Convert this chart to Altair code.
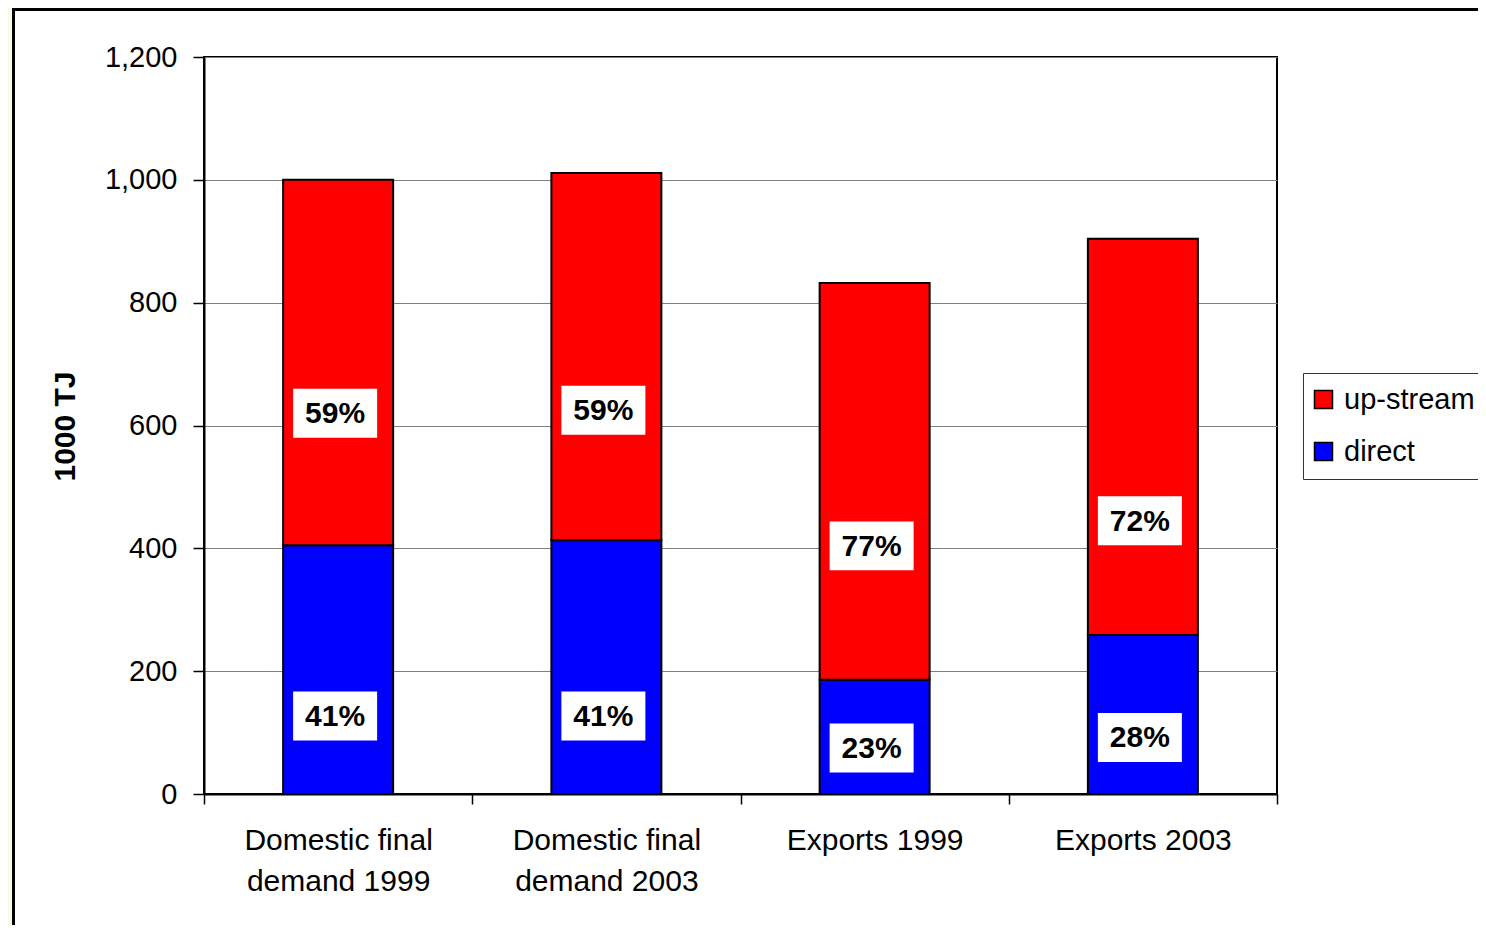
import altair as alt
import pandas as pd

categories = ["Domestic final|demand 1999", "Domestic final|demand 2003", "Exports 1999", "Exports 2003"]
direct = [405, 413, 186, 259]
upstream = [595, 598, 646, 645]
direct_pct = ["41%", "41%", "23%", "28%"]
upstream_pct = ["59%", "59%", "77%", "72%"]
direct_label_pos = [127, 127, 75, 92]
upstream_label_pos = [620, 625, 404, 445]
series_names = ["up-stream", "direct"]
series_colors = ["#FF0000", "#0000FF"]
y_ticks = [0, 200, 400, 600, 800, 1000, 1200]

FONT = "Liberation Sans"
W, H = 1073, 737

rows = []
for i, c in enumerate(categories):
    rows.append({"category": c, "series": "direct", "value": direct[i], "ord": 0})
    rows.append({"category": c, "series": "up-stream", "value": upstream[i], "ord": 1})
bars_df = pd.DataFrame(rows)

lab_rows = []
for i, c in enumerate(categories):
    lab_rows.append({"category": c, "pos": direct_label_pos[i], "text": direct_pct[i]})
    lab_rows.append({"category": c, "pos": upstream_label_pos[i], "text": upstream_pct[i]})
labels_df = pd.DataFrame(lab_rows)

x_axis = alt.Axis(
    title=None, labelAngle=0, labelExpr="split(datum.label, '|')", labelLimit=500,
    labelFont=FONT, labelFontSize=30, labelLineHeight=41, labelColor="black",
    labelPadding=21, tickBand="extent", tickSize=10, tickColor="black", tickWidth=1.5,
    domainColor="black", domainWidth=2, grid=False,
)
y_axis = alt.Axis(
    title="1000 TJ", titleFont=FONT, titleFontSize=30, titleFontWeight="bold", titleColor="black",
    titleX=-139, titleY=369, titleAngle=270, titleAlign="center", titleBaseline="middle",
    values=y_ticks, format=",d", labelFont=FONT, labelFontSize=29, labelColor="black",
    labelPadding=16, tickSize=11, tickColor="black", tickWidth=1.5,
    domainColor="black", domainWidth=2, grid=True, gridColor="#808080", gridWidth=1,
)
x_scale = alt.Scale(domain=categories, paddingInner=0, paddingOuter=0)
y_scale = alt.Scale(domain=[0, 1200], nice=False)

one = pd.DataFrame({"a": [0]})

yellow = "#FAFAE8"
strip_left = alt.Chart(one).mark_rect(color=yellow).encode(
    x=alt.value(-300), x2=alt.value(-192), y=alt.value(-100), y2=alt.value(1200))
border_top = alt.Chart(one).mark_rule(color="black", strokeWidth=3).encode(
    x=alt.value(-192), x2=alt.value(1600), y=alt.value(-47.5))
border_left = alt.Chart(one).mark_rule(color="black", strokeWidth=3).encode(
    x=alt.value(-190.5), y=alt.value(-49), y2=alt.value(1200))

bars = alt.Chart(bars_df).mark_bar(width=110, stroke="black", strokeWidth=2).encode(
    x=alt.X("category:N", sort=categories, scale=x_scale, axis=x_axis),
    y=alt.Y("value:Q", stack="zero", scale=y_scale, axis=y_axis),
    color=alt.Color(
        "series:N", title=None,
        scale=alt.Scale(domain=series_names, range=series_colors),
        legend=alt.Legend(
            orient="none", legendX=1099, legendY=316, direction="vertical",
            labelFont=FONT, labelFontSize=29, labelColor="black", labelOffset=6,
            symbolOffset=-6,
            symbolType="square", symbolSize=324, symbolStrokeColor="black",
            symbolStrokeWidth=1.5, symbolOpacity=1, padding=12, rowPadding=22,
            strokeColor="#333333", fillColor="white",
        ),
    ),
    order=alt.Order("ord:Q", sort="ascending"),
)

boxes = alt.Chart(labels_df).mark_point(
    shape="M-1,-0.583L1,-0.583L1,0.583L-1,0.583Z", size=7056, filled=True,
    fill="white", color="white", opacity=1, strokeWidth=0, xOffset=-3,
).encode(
    x=alt.X("category:N", sort=categories, scale=x_scale, axis=x_axis),
    y=alt.Y("pos:Q", scale=y_scale, axis=y_axis),
)

texts = alt.Chart(labels_df).mark_text(
    font=FONT, fontSize=30, fontWeight="bold", color="black",
    align="center", baseline="middle", dx=-3, dy=1,
).encode(
    x=alt.X("category:N", sort=categories, scale=x_scale, axis=x_axis),
    y=alt.Y("pos:Q", scale=y_scale, axis=y_axis),
    text="text:N",
)

chart = alt.layer(strip_left, border_top, border_left, bars, boxes, texts).properties(
    width=W, height=H,
    padding={"left": 196, "top": 49, "right": 201, "bottom": 131},
    autosize=alt.AutoSizeParams(type="none"),
    background="white",
).configure_view(stroke="black", strokeWidth=2)

chart.save("out.html", embed_options={"renderer": "svg", "actions": False})
